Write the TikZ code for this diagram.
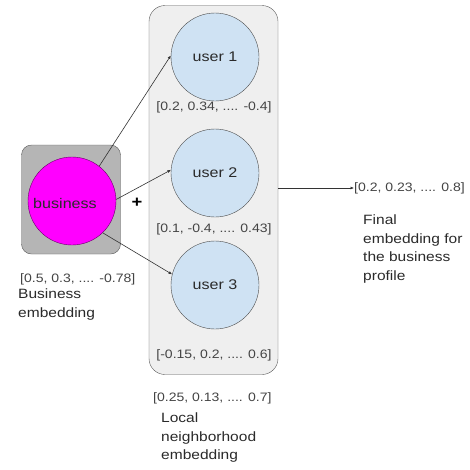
\documentclass[tikz,border=0pt]{standalone}
\usepackage{fontspec}
\setmainfont[FakeStretch=1.15]{Liberation Sans}
\usetikzlibrary{arrows.meta}
\definecolor{bizgray}{HTML}{B5B5B5}
\definecolor{panel}{HTML}{EFEFEF}
\definecolor{userblue}{HTML}{CFE2F3}
\definecolor{txt}{HTML}{444444}
\definecolor{desc}{HTML}{2A2A2A}
\definecolor{pink}{HTML}{FF00FF}
\begin{document}
\begin{tikzpicture}[x=1pt,y=-1pt,
  lab/.style={font=\fontsize{12.2}{14}\selectfont, text=txt, inner sep=0pt},
  para/.style={font=\fontsize{13.5}{18.5}\selectfont, text=desc, inner sep=0pt, align=left, anchor=north west},
  usercirc/.style={circle, draw=black!70, fill=userblue, minimum size=88pt, inner sep=0pt, font=\fontsize{14}{16}\selectfont, text=desc},
  conn/.style={draw=black!80, line width=0.6pt, -{Latex[length=3.5pt,width=3pt]}}
]
\useasboundingbox (0,0) rectangle (470,469);
\fill[white] (0,0) rectangle (470,469);
% panels
\node[draw=black!65, fill=bizgray, rounded corners=10pt, minimum width=99pt, minimum height=109pt, inner sep=0pt] (bizbox) at (71,199.5) {};
\node[draw=black!65, fill=panel, rounded corners=16pt, minimum width=129pt, minimum height=369pt, inner sep=0pt] (local) at (213.5,190) {};
% business circle
\node[circle, draw=black!60!pink, fill=pink, minimum size=88pt, inner sep=0pt] (biz) at (72,201) {};
\node[font=\fontsize{14}{16}\selectfont, text=desc, inner sep=0pt] (biztxt) at (65,203) {business};
% users
\node[usercirc] (u1) at (215,57) {user 1};
\node[usercirc] (u2) at (215,173) {user 2};
\node[usercirc] (u3) at (215,285) {user 3};
% vector labels
\node[lab] (v1) at (214,107) {[0.2, 0.34, .... -0.4]};
\node[lab] (v2) at (214,229) {[0.1, -0.4, .... 0.43]};
\node[lab] (v3) at (214,355) {[-0.15, 0.2, .... 0.6]};
\node[lab, anchor=west] (vb) at (20,279) {[0.5, 0.3, .... -0.78]};
\node[lab, anchor=west] (vl) at (153,398) {[0.25, 0.13, .... 0.7]};
\node[lab, anchor=west] (vf) at (354,188) {[0.2, 0.23, .... 0.8]};
% descriptions
\node[para] (db) at (18,289) {Business\\embedding};
\node[para] (dl) at (161,413) {Local\\neighborhood\\embedding};
\node[para] (df) at (363,215) {Final\\embedding for\\the business\\profile};
% plus
\node[font=\bfseries\fontsize{16}{16}\selectfont, inner sep=0pt] (plus) at (137,203) {+};
% connectors
\draw[conn] (biz.52) -- (u1.178);
\draw[conn] (biz.2) -- (u2.176);
\draw[conn] (biz.-46) -- (u3.166);
\draw[conn] (local.east |- vf.west) -- (vf.west);
\end{tikzpicture}
\end{document}
